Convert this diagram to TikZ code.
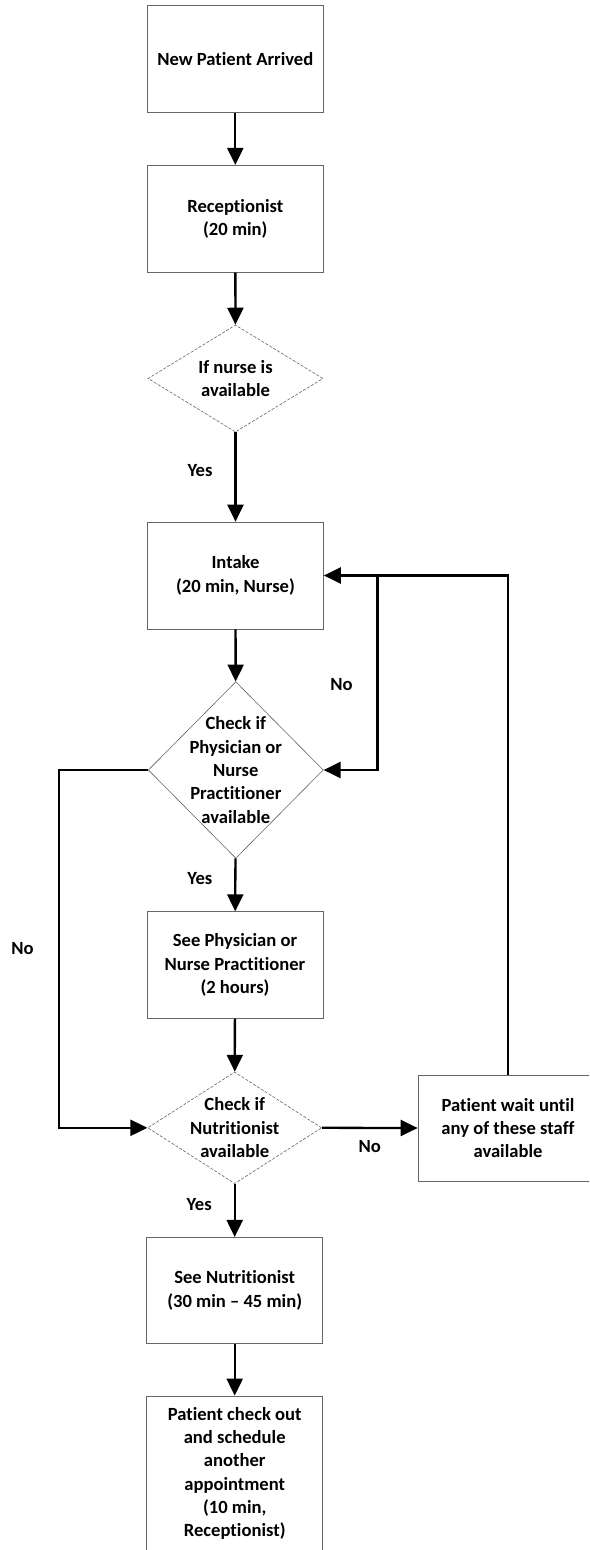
\documentclass[tikz,border=0pt]{standalone}
\usepackage{fontspec}
\setmainfont{Carlito}[RawFeature={-liga;-clig;-calt;-dlig}]
\usetikzlibrary{shapes.geometric,arrows.meta}
\begin{document}
\begin{tikzpicture}[x=1pt,y=-1pt,
  every node/.style={font=\fontsize{18.6}{23.3}\selectfont\bfseries},
  stepbox/.style={rectangle,draw=black!60,line width=0.7pt,minimum width=176pt,
    minimum height=107pt,align=center,inner sep=0pt},
  choice/.style={diamond,draw=black!60,line width=0.6pt,inner sep=0pt},
  dashedchoice/.style={choice,dash pattern=on 3pt off 1.6pt},
  caption/.style={align=center},
  flow/.style={line width=2.3pt,-{Triangle[width=16pt,length=17pt]}}
]
\clip (0,0) rectangle (589,1550);
\fill[white] (0,0) rectangle (589,1550);

% main column
\node[stepbox] (arrive) at (235.3,59.2) {New Patient Arrived};
\node[stepbox] (recept) at (235.3,218.8) {Receptionist\\(20 min)};
\node[dashedchoice,minimum width=175pt,minimum height=107pt] (nurse) at (235.5,378.5) {};
\node[caption] at (nurse) {If nurse is\\available};
\node[stepbox] (intake) at (235.5,575.5) {Intake\\(20 min, Nurse)};
\node[choice,minimum width=175pt,minimum height=176.6pt] (phys) at (235.8,770) {};
\node[caption] at (phys) {Check if\\Physician or\\Nurse\\Practitioner\\available};
\node[stepbox,minimum height=106.6pt] (seephys) at (235,965) {See Physician or\\Nurse Practitioner\\(2 hours)};
\node[dashedchoice,minimum width=174pt,minimum height=111.6pt] (nutri) at (234.7,1127.8) {};
\node[caption] at (nutri) {Check if\\Nutritionist\\available};
\node[stepbox,minimum height=106pt] (seenutri) at (234.7,1290.3) {See Nutritionist\\(30 min -- 45 min)};
\node[stepbox,minimum height=155pt] (checkout) at (234.7,1473.5) {Patient check out\\and schedule\\another\\appointment\\(10 min,\\Receptionist)};

% waiting box on the right
\node[stepbox,minimum width=180pt,minimum height=106pt] (wait) at (508,1128) {Patient wait until\\any of these staff\\available};

% straight connectors
\draw[flow] (arrive) -- (recept);
\draw[flow] (recept) -- (nurse);
\draw[flow] (nurse) -- node[pos=0.43,xshift=-35.5pt] {Yes} (intake);
\draw[flow] (intake) -- (phys);
\draw[flow] (phys) -- node[pos=0.38,xshift=-35.5pt] {Yes} (seephys);
\draw[flow] (seephys) -- (nutri);
\draw[flow] (nutri) -- node[pos=0.38,xshift=-35.5pt] {Yes} (seenutri);
\draw[flow] (seenutri) -- (checkout);
\draw[flow] (nutri.east) -- node[midway,yshift=-19pt] {No} (wait.west);

% left bypass from the physician check to the nutritionist check
\coordinate (bypass) at (59,949);
\draw[flow] (phys.west) -| (bypass) node[xshift=-36.5pt] {No} |- (nutri.west);

% return loops from the waiting box
\coordinate (split) at (377.5,575.5);
\draw[flow] (wait.north) |- (intake.east);
\draw[flow] (split) |- node[pos=0.28,xshift=-36pt] {No} (phys.east);
\end{tikzpicture}
\end{document}
